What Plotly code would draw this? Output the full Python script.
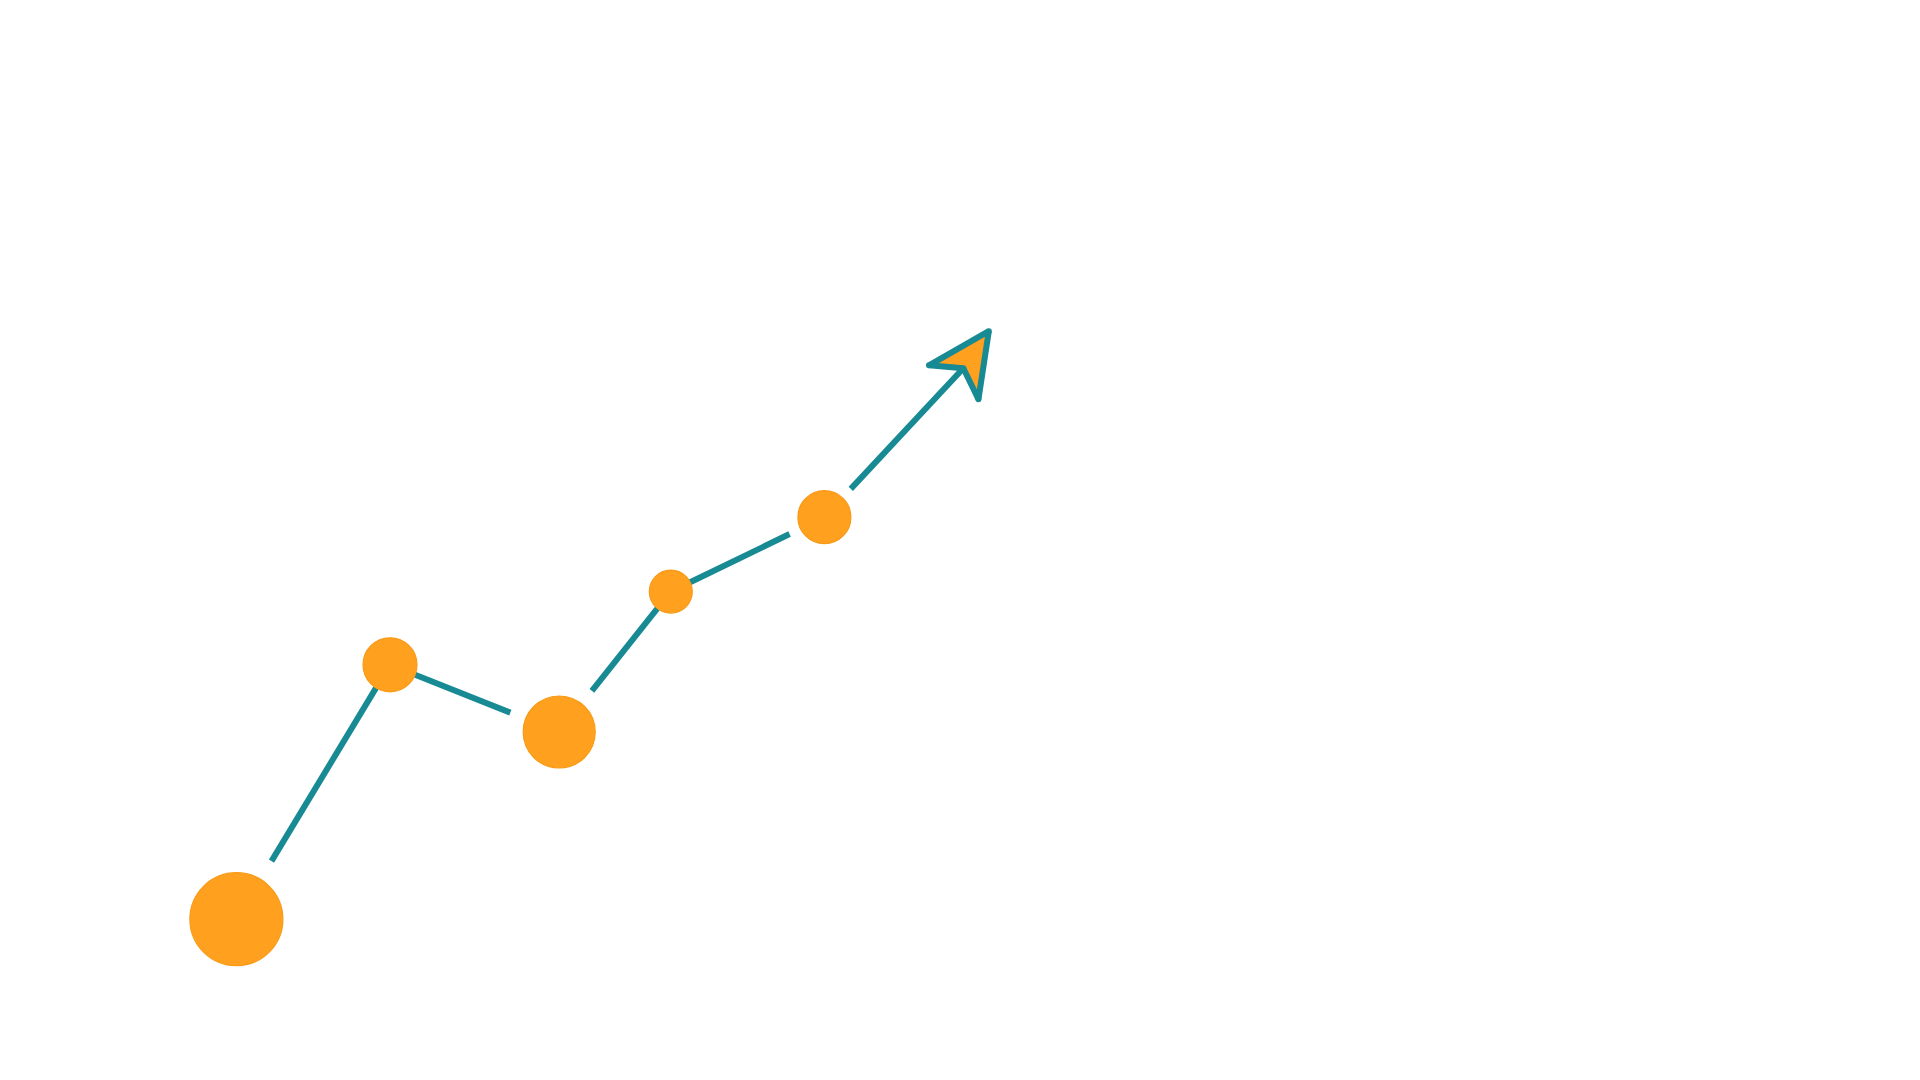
import math
import plotly.graph_objects as go

# data
x_vals = [1.97, 3.25, 4.66, 5.59, 6.87]
y_vals = [1.34, 3.46, 2.90, 4.07, 4.69]
bubble = [93, 54, 72, 43, 53]          # marker diameter
arrow_end = (8.24, 6.24)                # where the trend arrow points

TEAL = "#178A94"
ORANGE = "#FFA01E"
PX = 120.0   # pixels per data unit

# gap between line ends and the bubbles, as a multiple of the radius
halo = [1.46, 1.0, 1.46, 1.0, 1.46]


def unit(dx, dy):
    d = math.hypot(dx, dy)
    return dx / d, dy / d


def rot(v, deg):
    a = math.radians(deg)
    return (v[0] * math.cos(a) - v[1] * math.sin(a),
            v[0] * math.sin(a) + v[1] * math.cos(a))


fig = go.Figure()

# connecting segments
for i in range(len(x_vals) - 1):
    ux, uy = unit(x_vals[i + 1] - x_vals[i], y_vals[i + 1] - y_vals[i])
    s0 = halo[i] * bubble[i] / 2 / PX
    s1 = halo[i + 1] * bubble[i + 1] / 2 / PX
    fig.add_trace(go.Scatter(
        x=[x_vals[i] + ux * s0, x_vals[i + 1] - ux * s1],
        y=[y_vals[i] + uy * s0, y_vals[i + 1] - uy * s1],
        mode="lines", line=dict(color=TEAL, width=6),
        hoverinfo="skip"))

# final arrow
tx, ty = arrow_end
hd = rot(unit(tx - x_vals[-1], ty - y_vals[-1]), 7)
perp = (-hd[1], hd[0])
nx, ny = tx - hd[0] * 45 / PX, ty - hd[1] * 45 / PX
ux, uy = unit(nx - x_vals[-1], ny - y_vals[-1])
s0 = halo[-1] * bubble[-1] / 2 / PX
fig.add_trace(go.Scatter(
    x=[x_vals[-1] + ux * s0, nx], y=[y_vals[-1] + uy * s0, ny],
    mode="lines", line=dict(color=TEAL, width=6), hoverinfo="skip"))

bx, by = tx - hd[0] * 62 / PX, ty - hd[1] * 62 / PX
w = 30 / PX
hx = [tx, bx + perp[0] * w, nx, bx - perp[0] * w]
hy = [ty, by + perp[1] * w, ny, by - perp[1] * w]

# head fill
fig.add_trace(go.Scatter(
    x=hx + [tx], y=hy + [ty], mode="lines", fill="toself",
    fillcolor=ORANGE, line=dict(width=0), hoverinfo="skip"))

# head outline: separate edges + round dots at the corners (round joins)
ox, oy = [], []
for k in range(4):
    ox += [hx[k], hx[(k + 1) % 4], None]
    oy += [hy[k], hy[(k + 1) % 4], None]
fig.add_trace(go.Scatter(
    x=ox, y=oy, mode="lines", line=dict(color=TEAL, width=6),
    hoverinfo="skip"))
fig.add_trace(go.Scatter(
    x=hx, y=hy, mode="markers",
    marker=dict(size=6, color=TEAL, line=dict(width=0)), hoverinfo="skip"))

# bubbles
fig.add_trace(go.Scatter(
    x=x_vals, y=y_vals, mode="markers",
    marker=dict(size=bubble, sizemode="diameter", color=ORANGE,
                line=dict(color="#F99A16", width=1.2), opacity=1)))

# page has an 8px body margin, ranges set so 1 unit = 120px from the window corner
fig.update_layout(
    showlegend=False,
    paper_bgcolor="white", plot_bgcolor="white",
    margin=dict(l=0, r=0, t=0, b=0),
    xaxis=dict(range=[8 / PX, 1912 / PX], visible=False, fixedrange=True),
    yaxis=dict(range=[8 / PX, 1072 / PX], visible=False, fixedrange=True),
)

fig.write_html("out.html")
